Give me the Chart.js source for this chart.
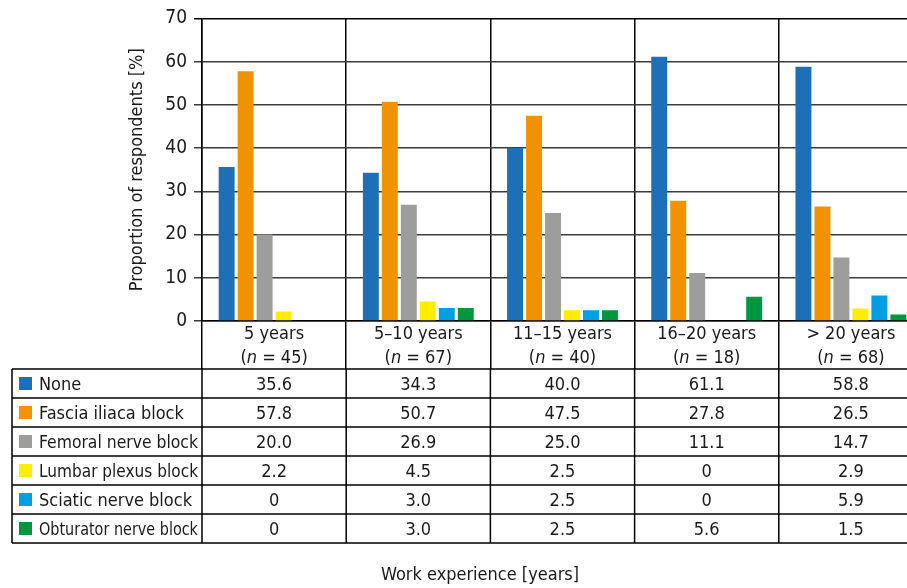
<!DOCTYPE html>
<html>
<head>
<meta charset="utf-8">
<script src="https://cdn.jsdelivr.net/npm/chart.js@4.4.1/dist/chart.umd.min.js"></script>
<style>
  html, body { margin: 0; padding: 0; background: #fff; overflow: hidden; }
  #wrap {
    position: relative; width: 930px; height: 588px;
    font-family: "DejaVu Sans Condensed", "Liberation Sans Narrow", "Arial Narrow", sans-serif;
    color: #1a1a1a;
  }
  #chart { position: absolute; left: 0; top: 0; }
  .txt { position: absolute; white-space: nowrap; font-size: 18px; line-height: 24px; }
  .cell { position: absolute; box-sizing: border-box; display: flex; align-items: center;
          white-space: nowrap; font-size: 18px; }
  .num { justify-content: center; }
  .swatch { position: absolute; width: 13px; height: 13px; }
  .lab { position: absolute; white-space: nowrap; font-size: 18px; transform-origin: 0 50%; }
</style>
</head>
<body>
<div id="wrap">
  <canvas id="chart" width="930" height="588"></canvas>
  <div id="overlay"></div>
</div>
<script>
// Groups by length of work experience and number of respondents in each
const categories = ['5 years', '5–10 years', '11–15 years', '16–20 years', '> 20 years'];
const groupSizes = [45, 67, 40, 18, 68];

// Share of respondents (%) choosing each block, per group
const seriesNames = ['None', 'Fascia iliaca block', 'Femoral nerve block',
                     'Lumbar plexus block', 'Sciatic nerve block', 'Obturator nerve block'];
const noneValues         = [35.6, 34.3, 40.0, 61.1, 58.8];
const fasciaIliacaValues = [57.8, 50.7, 47.5, 27.8, 26.5];
const femoralValues      = [20.0, 26.9, 25.0, 11.1, 14.7];
const lumbarPlexusValues = [2.2, 4.5, 2.5, 0, 2.9];
const sciaticValues      = [0, 3.0, 2.5, 0, 5.9];
const obturatorValues    = [0, 3.0, 2.5, 5.6, 1.5];

const yTicks = [0, 10, 20, 30, 40, 50, 60, 70];
const seriesColors = ['#1d70b7', '#f39200', '#9d9d9c', '#ffed00', '#009fe3', '#009640'];

const seriesValues = [noneValues, fasciaIliacaValues, femoralValues,
                      lumbarPlexusValues, sciaticValues, obturatorValues];

const FONT = '"DejaVu Sans Condensed", "Liberation Sans Narrow", "Arial Narrow", sans-serif';
const TABLE_TOP = 369;
const ROW_H = 29;
const TABLE_LEFT = 12;

function fmt(v) { return v === 0 ? '0' : v.toFixed(1); }

// Column edges of the data table follow the category slots of the x scale
function columnEdges(chart) {
  const xs = chart.scales.x;
  const edges = [chart.chartArea.left];
  for (let i = 0; i < categories.length - 1; i++) {
    edges.push((xs.getPixelForValue(i) + xs.getPixelForValue(i + 1)) / 2);
  }
  edges.push(chart.chartArea.right);
  return edges;
}

const tableLines = {
  id: 'tableLines',
  afterDraw(chart) {
    const ctx = chart.ctx;
    const edges = columnEdges(chart);
    const rows = seriesNames.length;
    const bottom = TABLE_TOP + rows * ROW_H;
    ctx.save();
    ctx.strokeStyle = '#000';
    ctx.lineWidth = 1.5;
    ctx.beginPath();
    for (let r = 0; r <= rows; r++) {
      const y = TABLE_TOP + r * ROW_H;
      ctx.moveTo(TABLE_LEFT, y);
      ctx.lineTo(edges[edges.length - 1], y);
    }
    ctx.moveTo(TABLE_LEFT, TABLE_TOP);
    ctx.lineTo(TABLE_LEFT, bottom);
    edges.forEach(x => { ctx.moveTo(x, TABLE_TOP); ctx.lineTo(x, bottom); });
    ctx.stroke();
    ctx.restore();
  }
};

const chart = new Chart(document.getElementById('chart'), {
  type: 'bar',
  data: {
    labels: categories,
    datasets: seriesNames.map((name, i) => ({
      label: name,
      data: seriesValues[i],
      backgroundColor: seriesColors[i],
      borderWidth: 0,
      categoryPercentage: 0.79,
      barPercentage: 0.84
    }))
  },
  options: {
    responsive: false,
    animation: false,
    layout: { padding: { left: 120, top: 18, right: 7, bottom: 219 } },
    plugins: { legend: { display: false }, tooltip: { enabled: false } },
    scales: {
      x: {
        grid: { offset: true, color: '#000', lineWidth: 1.5, drawTicks: true, tickLength: 48 },
        border: { display: true, color: '#000', width: 1.5 },
        ticks: { display: false },
        afterFit(scale) { scale.height = 48; }
      },
      y: {
        min: 0, max: 70,
        afterBuildTicks(scale) { scale.ticks = yTicks.map(v => ({ value: v })); },
        grid: {
          color: ctx => (ctx.tick && ctx.tick.value === 70 ? '#000' : '#3c3c3c'),
          lineWidth: 1.5, tickLength: 8
        },
        border: { display: true, color: '#000', width: 1.5 },
        ticks: { color: '#1a1a1a', padding: 7, font: { family: FONT, size: 19 } },
        title: {
          display: true, text: 'Proportion of respondents [%]', color: '#1a1a1a',
          font: { family: FONT, size: 18 }, padding: { top: 7, bottom: 0 }
        },
        afterFit(scale) { scale.width = 82; }
      }
    }
  },
  plugins: [tableLines]
});

// Text of the category labels, the data table and the axis title
(function buildOverlay() {
  const overlay = document.getElementById('overlay');
  const edges = columnEdges(chart);
  const xs = chart.scales.x;
  const axisBottom = chart.chartArea.bottom;

  categories.forEach((cat, i) => {
    const cx = xs.getPixelForValue(i);
    const d = document.createElement('div');
    d.className = 'txt';
    d.style.top = (axisBottom - 0.5) + 'px';
    d.style.left = (cx - 70) + 'px';
    d.style.width = '140px';
    d.style.textAlign = 'center';
    d.innerHTML = cat.replace('>', '&gt;') + '<br>(<i>n</i> = ' + groupSizes[i] + ')';
    overlay.appendChild(d);
  });

  const labelLeft = TABLE_LEFT + 27;
  const labelRoom = edges[0] - labelLeft - 4;
  seriesNames.forEach((name, r) => {
    const top = TABLE_TOP + r * ROW_H;
    const sw = document.createElement('div');
    sw.className = 'swatch';
    sw.style.background = seriesColors[r];
    sw.style.left = (TABLE_LEFT + 7) + 'px';
    sw.style.top = (top + 8) + 'px';
    overlay.appendChild(sw);

    const lab = document.createElement('div');
    lab.className = 'lab';
    lab.style.left = labelLeft + 'px';
    lab.style.top = top + 'px';
    lab.style.height = ROW_H + 'px';
    lab.style.lineHeight = ROW_H + 'px';
    lab.textContent = name;
    overlay.appendChild(lab);
    const w = lab.getBoundingClientRect().width;
    if (w > labelRoom) lab.style.transform = 'scaleX(' + (labelRoom / w).toFixed(3) + ')';

    seriesValues[r].forEach((v, c) => {
      const cell = document.createElement('div');
      cell.className = 'cell num';
      cell.style.top = top + 'px';
      cell.style.height = ROW_H + 'px';
      cell.style.left = edges[c] + 'px';
      cell.style.width = (edges[c + 1] - edges[c]) + 'px';
      cell.textContent = fmt(v);
      overlay.appendChild(cell);
    });
  });

  const title = document.createElement('div');
  title.className = 'txt';
  title.style.left = '330px';
  title.style.width = '300px';
  title.style.textAlign = 'center';
  title.style.top = '562px';
  title.textContent = 'Work experience [years]';
  overlay.appendChild(title);
})();
</script>
</body>
</html>
